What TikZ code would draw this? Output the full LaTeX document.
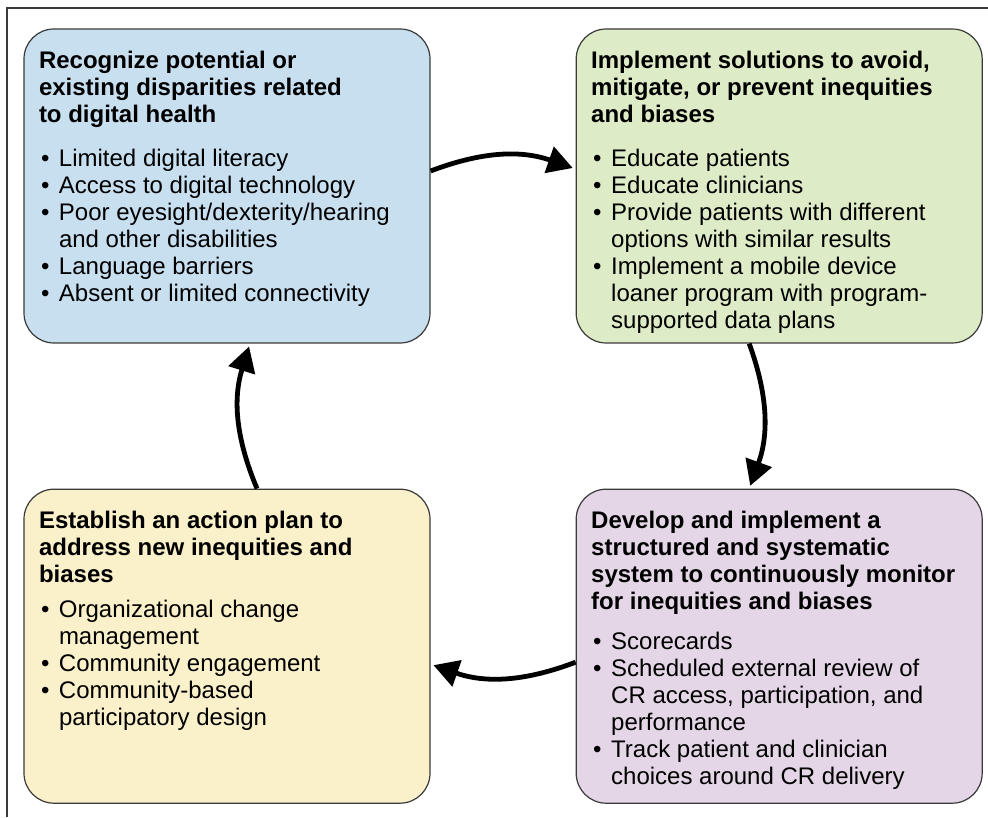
\documentclass[tikz,border=0pt]{standalone}
\usepackage{fontspec}
\setmainfont{Liberation Sans}
\usetikzlibrary{arrows.meta}
\usetikzlibrary{positioning}

\definecolor{recogfill}{HTML}{C8DFF0}
\definecolor{implfill}{HTML}{DDEBC6}
\definecolor{planfill}{HTML}{FAF0C9}
\definecolor{monitfill}{HTML}{E4D6E7}
\definecolor{edgegray}{HTML}{3A3A3A}

% bullet line with hanging indent
\newcommand{\bitem}[1]{\par\hangindent=20pt\hangafter=1\noindent\makebox[20pt][l]{\hspace{2pt}\textbullet}#1}
% title, gap, list of bullets
\newcommand{\panel}[3]{\parbox[t][270pt][t]{376pt}{\textbf{#1}\par\vspace{#2}#3}}

\begin{document}
\begin{tikzpicture}[x=1pt, y=1pt,
                node distance=145pt,
                every node/.style = {font=\fontsize{24}{27}\selectfont},
                box/.style = {shape=rectangle, draw=edgegray, line width=1.2pt,
                              rounded corners=30pt, inner xsep=15pt, inner ysep=22pt},
                flow/.style = {line width=4.8pt, -{Triangle[length=25pt,width=27pt]},
                               shorten >=3pt, bend left=20}]
            \useasboundingbox (0,0) rectangle (988,817);
            \draw[edgegray, line width=2pt] (7,0) |- (988,809);

            \node (q_recog) [box, fill=recogfill] at (227,631) {\panel{Recognize potential or\\existing disparities related\\to digital health}{17pt}{%
                \bitem{Limited digital literacy}
                \bitem{Access to digital technology}
                \bitem{Poor eyesight/dexterity/hearing\\and other disabilities}
                \bitem{Language barriers}
                \bitem{Absent or limited connectivity}}};
            \node (q_impl) [box, fill=implfill, right = of q_recog] {\panel{Implement solutions to avoid,\\mitigate, or prevent inequities\\and biases}{17pt}{%
                \bitem{Educate patients}
                \bitem{Educate clinicians}
                \bitem{Provide patients with different\\options with similar results}
                \bitem{Implement a mobile device\\loaner program with program-\\supported data plans}}};

            \node (q_plan) [box, fill=planfill, below = of q_recog] {\panel{Establish an action plan to\\address new inequities and\\biases}{8pt}{%
                \bitem{Organizational change\\management}
                \bitem{Community engagement}
                \bitem{Community-based\\participatory design}}};
            \node (q_monit) [box, fill=monitfill, right = of q_plan] {\panel{Develop and implement a\\structured and systematic\\system to continuously monitor\\for inequities and biases}{13pt}{%
                \bitem{Scorecards}
                \bitem{Scheduled external review of\\CR access, participation, and\\performance}
                \bitem{Track patient and clinician\\choices around CR delivery}}};

            \path[flow]
            ([yshift=15pt]q_recog.east)   edge ([yshift=17pt]q_impl.west)
            ([xshift=-30pt]q_impl.south)  edge ([xshift=-30pt]q_monit.north)
            ([yshift=-16pt]q_monit.west)  edge ([yshift=-18pt]q_plan.east)
            ([xshift=30pt]q_plan.north)   edge ([xshift=23pt]q_recog.south);
        \end{tikzpicture}
\end{document}
